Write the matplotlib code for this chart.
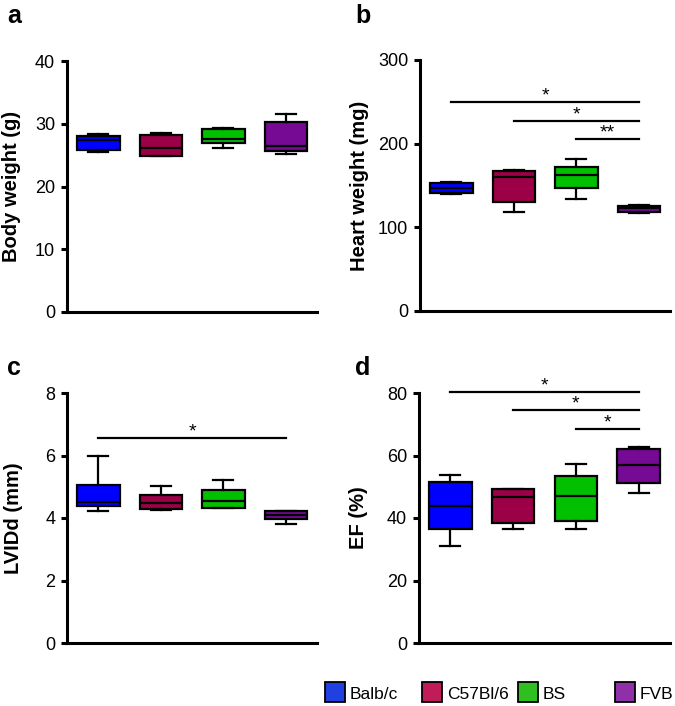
import matplotlib.pyplot as plt
from matplotlib.patches import Rectangle

plt.rcParams['font.family'] = ['Liberation Sans', 'DejaVu Sans']

groups = ['Balb/c', 'C57Bl/6', 'BS', 'FVB']
box_colors = ['#0000ff', '#9c0047', '#00c000', '#770a95']
legend_colors = ['#2040e0', '#c01c5a', '#30bf20', '#9030a8']

# five-number summary per group: [whisker low, q1, median, q3, whisker high]
body_weight = [[25.5, 25.8, 27.4, 28.1, 28.3],
               [24.8, 24.9, 26.1, 28.2, 28.5],
               [26.1, 27.0, 27.5, 29.1, 29.3],
               [25.1, 25.6, 26.4, 30.3, 31.5]]
heart_weight = [[139.6, 141.6, 147.6, 152.4, 154.4],
                [118.0, 130.4, 159.6, 167.5, 169.0],
                [134.0, 147.6, 162.3, 172.3, 181.9],
                [116.9, 118.5, 123.3, 125.6, 126.4]]
lvidd = [[4.23, 4.40, 4.52, 5.05, 5.99],
         [4.27, 4.29, 4.49, 4.75, 5.02],
         [4.31, 4.33, 4.54, 4.89, 5.21],
         [3.80, 3.97, 4.10, 4.22, 4.24]]
ef = [[31.2, 36.4, 43.8, 51.5, 53.8],
      [36.6, 38.3, 46.7, 49.3, 49.3],
      [36.6, 39.1, 46.9, 53.4, 57.2],
      [48.1, 51.1, 56.9, 62.0, 62.8]]

# significance brackets: (group from, group to, height, label)
sig_b = [(1, 4, 250, '*'), (2, 4, 227.4, '*'), (3, 4, 205.4, '**')]
sig_c = [(1, 4, 6.56, '*')]
sig_d = [(1, 4, 80.3, '*'), (2, 4, 74.7, '*'), (3, 4, 68.6, '*')]

W, H = 675, 706
fig = plt.figure(figsize=(W / 100, H / 100), dpi=100)


def make_axes(l, r, t, b):
    return fig.add_axes([l / W, 1 - b / H, (r - l) / W, (b - t) / H])


def draw_panel(ax, data, ymax, ystep, ylabel, label_x, sigs):
    stats = []
    for name, s in zip(groups, data):
        stats.append(dict(label=name, whislo=s[0], q1=s[1], med=s[2], q3=s[3], whishi=s[4]))
    lw = 1.6
    bp = ax.bxp(stats, positions=[1, 2, 3, 4], widths=0.68, capwidths=0.32,
                patch_artist=True, showfliers=False,
                boxprops=dict(linewidth=lw, edgecolor='black'),
                medianprops=dict(linewidth=lw, color='black'),
                whiskerprops=dict(linewidth=lw, color='black'),
                capprops=dict(linewidth=lw, color='black'))
    for patch, c in zip(bp['boxes'], box_colors):
        patch.set_facecolor(c)
    ax.set_xlim(0.5, 4.5)
    ax.set_ylim(0, ymax)
    ax.set_yticks(range(0, ymax + 1, ystep))
    ax.set_xticks([])
    for side in ['top', 'right']:
        ax.spines[side].set_visible(False)
    for side in ['left', 'bottom']:
        ax.spines[side].set_linewidth(2.2)
    ax.tick_params(axis='y', direction='out', length=4.5, width=2.2, labelsize=13, pad=4)
    ax.set_ylabel(ylabel, fontsize=14.5, fontweight='bold')
    ax.yaxis.set_label_coords(label_x, 0.5)
    for x1, x2, y, txt in sigs:
        ax.plot([x1, x2], [y, y], color='black', linewidth=1.6, clip_on=False)
        ax.annotate(txt, xy=((x1 + x2) / 2, y), xytext=(0, 1), textcoords='offset points',
                    ha='center', va='baseline', fontsize=14, annotation_clip=False)


ax_a = make_axes(67, 317, 61, 312)
ax_b = make_axes(420, 670, 60, 311)
ax_c = make_axes(67, 317, 393, 643)
ax_d = make_axes(419, 670, 393, 643)

draw_panel(ax_a, body_weight, 40, 10, 'Body weight (g)', -0.185, [])
draw_panel(ax_b, heart_weight, 300, 100, 'Heart weight (mg)', -0.205, sig_b)
draw_panel(ax_c, lvidd, 8, 2, 'LVIDd (mm)', -0.176, sig_c)
draw_panel(ax_d, ef, 80, 20, 'EF (%)', -0.205, sig_d)

# panel letters
for letter, x, y in [('a', 7, 23), ('b', 355, 23), ('c', 7, 375), ('d', 355, 375)]:
    fig.text(x / W, 1 - y / H, letter, fontsize=18, fontweight='bold', ha='left', va='baseline')

# legend along the bottom
legend_x = [325, 422, 518, 615]
for name, c, x in zip(groups, legend_colors, legend_x):
    fig.patches.append(Rectangle((x / W, 1 - 702 / H), 20 / W, 20 / H, transform=fig.transFigure,
                                 facecolor=c, edgecolor='black', linewidth=1.3))
    fig.text((x + 25) / W, 1 - 699 / H, name, fontsize=12.5, ha='left', va='baseline')

fig.savefig('out.png', dpi=100)
